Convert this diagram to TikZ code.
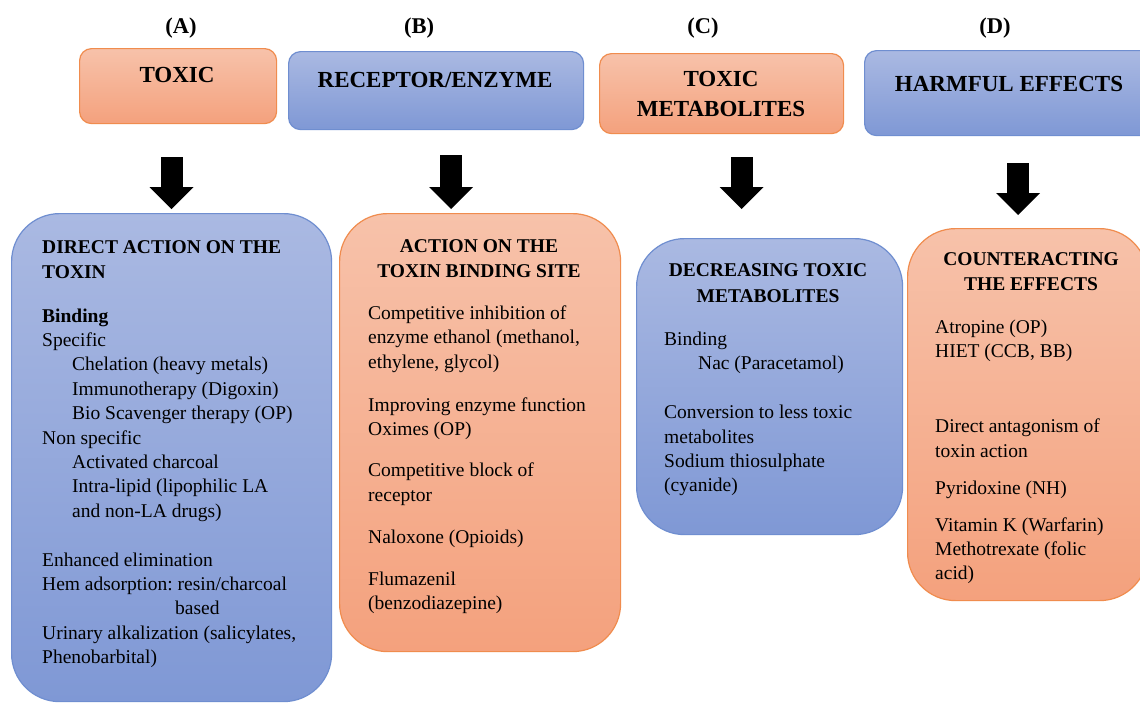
\documentclass[tikz,border=0pt]{standalone}
\usepackage{fontspec}
\setmainfont{Liberation Serif}
\frenchspacing
\usetikzlibrary{arrows.meta}
\definecolor{bTop}{HTML}{AAB9E2}
\definecolor{bBot}{HTML}{7F98D5}
\definecolor{bLine}{HTML}{6F8ED0}
\definecolor{oTop}{HTML}{F7C2AA}
\definecolor{oBot}{HTML}{F4A17D}
\definecolor{oLine}{HTML}{F08C4E}
\tikzset{
  boxbase/.style={draw, line width=1.2pt, inner sep=0pt, anchor=north west},
  bluebox/.style={boxbase, draw=bLine, top color=bTop, bottom color=bBot},
  orangebox/.style={boxbase, draw=oLine, top color=oTop, bottom color=oBot},
  hdrround/.style={rounded corners=12pt},
  biground/.style={rounded corners=48pt},
  bodytext/.style={font=\fontsize{19.5}{24.4}\selectfont, align=left, inner sep=0pt, anchor=north west},
  headtext/.style={font=\bfseries\fontsize{19.5}{24.4}\selectfont, align=center, inner sep=0pt, anchor=north},
  toptext/.style={font=\bfseries\fontsize{23}{30}\selectfont, inner sep=0pt, align=center},
  labtext/.style={font=\bfseries\fontsize{22.5}{25}\selectfont, inner sep=0pt},
  blockarrow/.style={line width=22pt, -{Triangle[width=44pt,length=22pt,line width=0pt]}}
}
\begin{document}
\begin{tikzpicture}[x=1pt,y=-1pt]
\useasboundingbox (0,0) rectangle (1140,702);
\fill[white] (0,0) rectangle (1140,702);

% column labels
\node[labtext] (lA) at (181,28) {(A)};
\node[labtext] (lB) at (419,28) {(B)};
\node[labtext] (lC) at (703,28) {(C)};
\node[labtext] (lD) at (995,28) {(D)};

% header boxes
\node[orangebox, hdrround, minimum width=197pt, minimum height=75pt] (hA) at (79,48) {};
\node[bluebox, hdrround, minimum width=295pt, minimum height=78pt] (hB) at (288,51) {};
\node[orangebox, hdrround, minimum width=244pt, minimum height=80pt] (hC) at (599,53) {};
\node[bluebox, hdrround, minimum width=290pt, minimum height=85pt] (hD) at (864,50) {};
\node[toptext] (hAt) at (177,75) {TOXIC};
\node[toptext] (hBt) at (435,80) {RECEPTOR/ENZYME};
\node[toptext] (hCt) at (721,94) {TOXIC\\METABOLITES};
\node[toptext] (hDt) at (1009,84) {HARMFUL EFFECTS};

% arrows
\coordinate (aA1) at (171.5,157); \coordinate (aA2) at (171.5,209);
\coordinate (aB1) at (451,155);   \coordinate (aB2) at (451,209);
\coordinate (aC1) at (741.5,157); \coordinate (aC2) at (741.5,209);
\coordinate (aD1) at (1018,163);  \coordinate (aD2) at (1018,215);
\draw[blockarrow] (aA1) -- (aA2);
\draw[blockarrow] (aB1) -- (aB2);
\draw[blockarrow] (aC1) -- (aC2);
\draw[blockarrow] (aD1) -- (aD2);

% big boxes
\node[bluebox, biground, minimum width=320pt, minimum height=488pt] (bA) at (11,213) {};
\node[orangebox, biground, minimum width=281pt, minimum height=438pt] (bB) at (339,213) {};
\node[bluebox, biground, minimum width=266pt, minimum height=296pt] (bC) at (636,238) {};
\node[orangebox, biground, minimum width=240pt, minimum height=372pt] (bD) at (907,228) {};

% box A text
\node[bodytext] (tA) at (42,240.5) {%
\textbf{DIRECT ACTION ON THE}\\
\textbf{TOXIN}\\[19.6pt]
\textbf{Binding}\\
Specific\\
\hspace*{30pt}Chelation (heavy metals)\\
\hspace*{30pt}Immunotherapy (Digoxin)\\
\hspace*{30pt}Bio Scavenger therapy (OP)\\
Non specific\\
\hspace*{30pt}Activated charcoal\\
\hspace*{30pt}Intra-lipid (lipophilic LA\\
\hspace*{30pt}and non-LA drugs)\\[24.5pt]
Enhanced elimination\\
Hem adsorption: resin/charcoal\\
\hspace*{133pt}based\\
Urinary alkalization (salicylates,\\
Phenobarbital)};

% box B text
\node[headtext] (hdB) at (479,239.5) {ACTION ON THE\\TOXIN BINDING SITE};
\node[bodytext] (tB) at (368,305.5) {%
Competitive inhibition of\\
enzyme ethanol (methanol,\\
ethylene, glycol)\\[18.6pt]
Improving enzyme function\\
Oximes (OP)\\[16.6pt]
Competitive block of\\
receptor\\[17.6pt]
Naloxone (Opioids)\\[17.6pt]
Flumazenil\\
(benzodiazepine)};

% box C text
\node[headtext, font=\bfseries\fontsize{19.5}{25.5}\selectfont] (hdC) at (768,263.5) {DECREASING TOXIC\\METABOLITES};
\node[bodytext] (tC) at (664,331.5) {%
Binding\\
\hspace*{34pt}Nac (Paracetamol)\\[24.6pt]
Conversion to less toxic\\
metabolites\\
Sodium thiosulphate\\
(cyanide)};

% box D text
\node[headtext] (hdD) at (1031,252.5) {COUNTERACTING\\THE EFFECTS};
\node[bodytext] (tD) at (935,319.5) {%
Atropine (OP)\\
HIET (CCB, BB)\\[50.6pt]
Direct antagonism of\\
toxin action\\[12.6pt]
Pyridoxine (NH)\\[12.6pt]
Vitamin K (Warfarin)\\
Methotrexate (folic\\
acid)};
\end{tikzpicture}
\end{document}
